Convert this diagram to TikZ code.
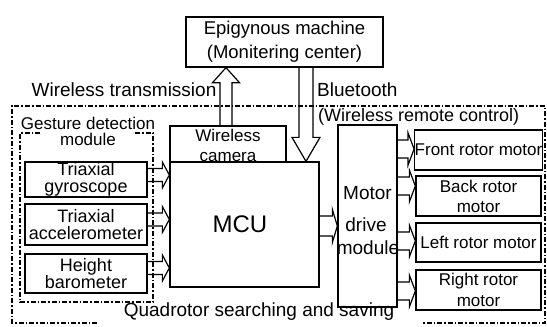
\documentclass[tikz,border=0pt]{standalone}
\usepackage{fontspec}
\setmainfont{Liberation Sans}
\usetikzlibrary{calc}
\newcommand{\blockarr}[5]{%
  \coordinate (bah) at ($#2!#5!#1$);
  \draw[arr] ($#1!#3!90:#2$) -- ($(bah)!#3!-90:#1$) -- ($(bah)!#4!-90:#1$) -- #2
    -- ($(bah)!#4!90:#1$) -- ($(bah)!#3!90:#1$) -- ($#1!#3!-90:#2$);}
\begin{document}
\begin{tikzpicture}[x=1pt,y=-1pt,
  box/.style={draw,line width=1.3pt,inner sep=0pt,align=center},
  arr/.style={draw,line width=1.2pt,line join=miter},
  frame/.style={line width=1.4pt,dash pattern=on 5pt off 2pt on 1.5pt off 2pt},
  txt/.style={inner sep=0pt,align=center},
  f17/.style={font=\fontsize{17}{15}\selectfont},
  f18/.style={font=\fontsize{18}{16.5}\selectfont},
  f19/.style={font=\fontsize{19}{22}\selectfont}]
\useasboundingbox (0,0) rectangle (547,327);
% frames
\draw[frame] (97,323) -- (12,323) -- (12,106) -- (545,106) -- (545,323) -- (423,323);
\draw[frame] (40,133) -- (20,133) -- (20,302) -- (153,302) -- (153,133) -- (133,133);
% boxes
\node[box,minimum width=197pt,minimum height=50pt,font=\fontsize{18.5}{24}\selectfont] (epi) at (284.5,42) {Epigynous machine\\(Monitering center)};
\node[box,minimum width=116pt,minimum height=36pt] (cam) at (228,144) {};
\node[box,minimum width=149pt,minimum height=125pt] (mcu) at (244.5,224.5) {};
\node[box,minimum width=59pt,minimum height=182pt] (mot) at (367.5,216) {};
\node[box,f18,minimum width=122pt,minimum height=35pt] (gyro) at (86,179.5) {Triaxial\\gyroscope};
\node[box,f18,minimum width=122pt,minimum height=41pt] (acc) at (86,224.5) {Triaxial\\accelerometer};
\node[box,font=\fontsize{18}{17}\selectfont,minimum width=122pt,minimum height=39pt] (baro) at (86,273.5) {Height\\barometer};
\node[box,font=\fontsize{17}{20}\selectfont,minimum width=125pt,minimum height=40pt] (front) at (478.5,150) {Front rotor motor};
\node[box,font=\fontsize{17}{20}\selectfont,minimum width=125pt,minimum height=40pt] (back) at (478.5,196) {Back rotor\\motor};
\node[box,font=\fontsize{17}{20}\selectfont,minimum width=125pt,minimum height=39pt] (left) at (478.5,242.5) {Left rotor motor};
\node[box,font=\fontsize{17}{21}\selectfont,minimum width=125pt,minimum height=40pt] (right) at (478.5,290) {Right rotor\\motor};
% texts
\node[txt,f17] (camt1) at (228,135) {Wireless};
\node[txt,f17] (camt2) at (228,157) {camera};
\node[txt,font=\fontsize{24}{26}\selectfont] (mcut) at (240,224) {MCU};
\node[txt,f19] (mt1) at (367.5,193) {Motor};
\node[txt,f19] (mt2) at (366,225) {drive};
\node[txt,f19] (mt3) at (368,248) {module};
\node[txt,f19] (wt) at (124,90) {Wireless transmission};
\node[txt,f19,anchor=west] (bt) at (317,90) {Bluetooth};
\node[txt,font=\fontsize{18}{20}\selectfont,anchor=west] (wrc) at (318,117) {(Wireless remote control)};
\node[txt,font=\fontsize{17}{16}\selectfont] (gdm) at (88,131) {Gesture detection\\module};
\node[txt,f19] (qs) at (259,312) {Quadrotor searching and saving};
% arrows
\blockarr{(226,0 |- cam.north)}{(226,0 |- epi.south)}{6pt}{13.5pt}{15pt}
\blockarr{(306,0 |- epi.south)}{(306,0 |- mcu.north)}{7pt}{14pt}{24pt}
\blockarr{(gyro.east |- 0,175)}{(mcu.west |- 0,175)}{6.5pt}{13pt}{7pt}
\blockarr{(acc.east |- 0,219.5)}{(mcu.west |- 0,219.5)}{6.5pt}{13pt}{7pt}
\blockarr{(baro.east |- 0,268)}{(mcu.west |- 0,268)}{6.5pt}{13pt}{7pt}
\blockarr{(mcu.east |- 0,226)}{(mot.west |- 0,226)}{10pt}{16.5pt}{5pt}
\blockarr{(mot.east |- 0,149)}{(front.west |- 0,149)}{9pt}{16pt}{6pt}
\blockarr{(mot.east |- 0,186)}{(back.west |- 0,186)}{9pt}{16pt}{6pt}
\blockarr{(mot.east |- 0,241)}{(left.west |- 0,241)}{9pt}{16pt}{6pt}
\blockarr{(mot.east |- 0,291)}{(right.west |- 0,291)}{9pt}{16pt}{6pt}
\end{tikzpicture}
\end{document}
